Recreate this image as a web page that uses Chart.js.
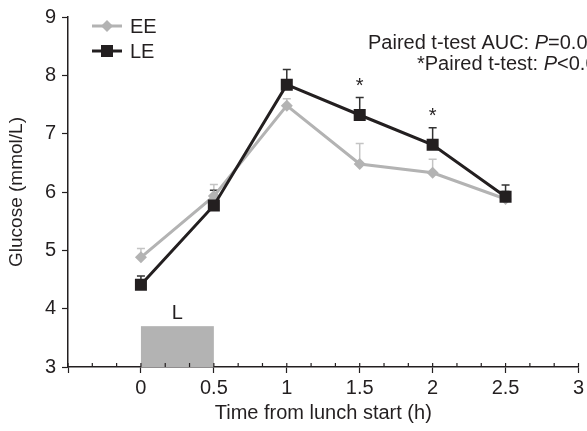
<!DOCTYPE html>
<html>
<head>
  <title>Glucose after lunch</title>
  <script src="https://cdn.jsdelivr.net/npm/chart.js"></script>
  <style>
    body { margin:0; background:#fff; overflow:hidden; }
    canvas { display:block; }
  </style>
</head>
<body>
  <canvas id="glucoseChart" width="587" height="431"></canvas>
  <script>
    // time points (h) and glucose means / upper SEM (mmol/L)
    const times   = [0, 0.5, 1, 1.5, 2, 2.5];
    const eeMean  = [4.88, 5.93, 7.48, 6.48, 6.33, 5.88];
    const eeUpper = [5.03, 6.13, 7.60, 6.83, 6.56, 6.02];
    const leMean  = [4.41, 5.77, 7.84, 7.32, 6.81, 5.92];
    const leUpper = [4.56, 6.03, 8.10, 7.62, 7.10, 6.12];
    const sigTimes = [1.5, 2];
    const xMajor = [-0.5, 0, 0.5, 1, 1.5, 2, 2.5, 3];
    const xLabels = ['', '0', '0.5', '1', '1.5', '2', '2.5', '3'];
    const lunch = { start: 0, end: 0.5, top: 3.7, label: 'L' };

    const FONT = "'Liberation Sans', Arial, sans-serif";
    const FS = 20;
    const GREY = '#b3b3b3', BLACK = '#231f20', TEXT = '#231f20';

    const pts = (ys) => times.map((t, i) => ({ x: t, y: ys[i] }));

    const extras = {
      id: 'extras',
      beforeDatasetsDraw(chart) {
        const { ctx, scales: { x, y } } = chart;
        ctx.save();
        // lunch block
        const x0 = x.getPixelForValue(lunch.start), x1 = x.getPixelForValue(lunch.end);
        const yt = y.getPixelForValue(lunch.top), yb = y.getPixelForValue(3);
        ctx.fillStyle = GREY;
        ctx.fillRect(x0, yt, x1 - x0, yb - yt);
        ctx.fillStyle = TEXT;
        ctx.font = FS + 'px ' + FONT;
        ctx.textAlign = 'center'; ctx.textBaseline = 'bottom';
        ctx.fillText(lunch.label, (x0 + x1) / 2, yt - 3);
        // upper error bars
        const bars = [[eeMean, eeUpper, '#c4c4c4'], [leMean, leUpper, '#333']];
        bars.forEach(([m, u, col]) => {
          ctx.strokeStyle = col; ctx.lineWidth = 1.5;
          times.forEach((t, i) => {
            const px = x.getPixelForValue(t);
            const top = y.getPixelForValue(u[i]);
            ctx.beginPath();
            ctx.moveTo(px, y.getPixelForValue(m[i])); ctx.lineTo(px, top);
            ctx.moveTo(px - 4, top); ctx.lineTo(px + 4, top);
            ctx.stroke();
          });
        });
        ctx.restore();
      },
      afterDraw(chart) {
        const { ctx, scales: { x, y } } = chart;
        ctx.save();
        // minor upward ticks on x axis
        ctx.strokeStyle = BLACK; ctx.lineWidth = 1.2;
        const ay = y.getPixelForValue(3);
        x.ticks.forEach(t => {
          const px = x.getPixelForValue(t.value);
          ctx.beginPath(); ctx.moveTo(px, ay); ctx.lineTo(px, ay - 4); ctx.stroke();
        });
        // significance stars
        ctx.fillStyle = TEXT;
        ctx.font = FS + 'px ' + FONT;
        ctx.textAlign = 'center'; ctx.textBaseline = 'middle';
        sigTimes.forEach(t => {
          const i = times.indexOf(t);
          ctx.fillText('*', x.getPixelForValue(t), y.getPixelForValue(leUpper[i]) - 11);
        });
        // legend
        const items = [['EE', GREY, 'rectRot', 6], ['LE', BLACK, 'rect', 8.5]];
        items.forEach(([txt, col, style, r], k) => {
          const ly = 26 + k * 25;
          ctx.strokeStyle = col; ctx.lineWidth = 3;
          ctx.beginPath(); ctx.moveTo(92, ly); ctx.lineTo(122, ly); ctx.stroke();
          ctx.fillStyle = col;
          Chart.helpers.drawPoint(ctx, { pointStyle: style, radius: r, borderWidth: 0 }, 107, ly);
          ctx.fillStyle = TEXT;
          ctx.textAlign = 'left'; ctx.textBaseline = 'middle';
          ctx.fillText(txt, 130, ly + 1);
        });
        // test annotations
        const line = (parts, x0, ly) => {
          let cx = x0;
          parts.forEach(([s, it]) => {
            ctx.font = (it ? 'italic ' : '') + FS + 'px ' + FONT;
            ctx.fillText(s, cx, ly);
            cx += ctx.measureText(s).width;
          });
        };
        line([['Paired t-test AUC: ', false], ['P', true], ['=0.03', false]], 368, 43);
        line([['*Paired t-test: ', false], ['P', true], ['<0.05', false]], 417, 64);
        ctx.restore();
      }
    };

    new Chart(document.getElementById('glucoseChart'), {
      type: 'line',
      data: {
        datasets: [
          { label: 'EE', data: pts(eeMean), borderColor: GREY, backgroundColor: GREY,
            borderWidth: 3, pointStyle: 'rectRot', pointRadius: 6, pointBorderWidth: 0, order: 2 },
          { label: 'LE', data: pts(leMean), borderColor: BLACK, backgroundColor: BLACK,
            borderWidth: 3, pointStyle: 'rect', pointRadius: 8.5, pointBorderWidth: 0, order: 1 }
        ]
      },
      options: {
        responsive: false,
        animation: false,
        layout: { padding: { top: 17, right: 3, left: 0, bottom: 0 } },
        plugins: { legend: { display: false }, tooltip: { enabled: false } },
        scales: {
          x: {
            type: 'linear', min: -0.5, max: 3,
            afterBuildTicks: s => {
              const ticks = [];
              for (let i = 0; i < xMajor.length - 1; i++)
                for (let k = 0; k < 3; k++) ticks.push({ value: xMajor[i] + k * (xMajor[i + 1] - xMajor[i]) / 3 });
              ticks.push({ value: xMajor[xMajor.length - 1] });
              s.ticks = ticks;
            },
            afterFit: s => { s.height = 64; s.paddingLeft = 0; s.paddingRight = 0; },
            border: { color: BLACK, width: 1.5 },
            grid: {
              drawOnChartArea: false, tickLength: 6, tickWidth: 1.2,
              tickColor: c => (xMajor.some(v => Math.abs(v - c.tick.value) < 1e-6) ? BLACK : 'rgba(0,0,0,0)')
            },
            ticks: {
              autoSkip: false, maxRotation: 0, padding: 3, color: TEXT,
              font: { family: FONT, size: FS },
              callback: v => {
                const i = xMajor.findIndex(m => Math.abs(m - v) < 1e-6);
                return i < 0 ? '' : xLabels[i];
              }
            },
            title: { display: true, text: 'Time from lunch start (h)', color: TEXT,
                     font: { family: FONT, size: FS }, padding: { top: 0, bottom: 6 } }
          },
          y: {
            min: 3, max: 9,
            afterFit: s => { s.width = 68; s.paddingTop = 0; s.paddingBottom = 0; },
            border: { color: BLACK, width: 1.5 },
            grid: { drawOnChartArea: false, tickLength: 6, tickWidth: 1.2, tickColor: BLACK },
            ticks: { stepSize: 1, padding: 6, color: TEXT, font: { family: FONT, size: FS } },
            title: { display: true, text: 'Glucose (mmol/L)', color: TEXT,
                     font: { family: FONT, size: FS - 1 }, padding: { top: 5, bottom: 0 } }
          }
        }
      },
      plugins: [extras]
    });
  </script>
</body>
</html>
